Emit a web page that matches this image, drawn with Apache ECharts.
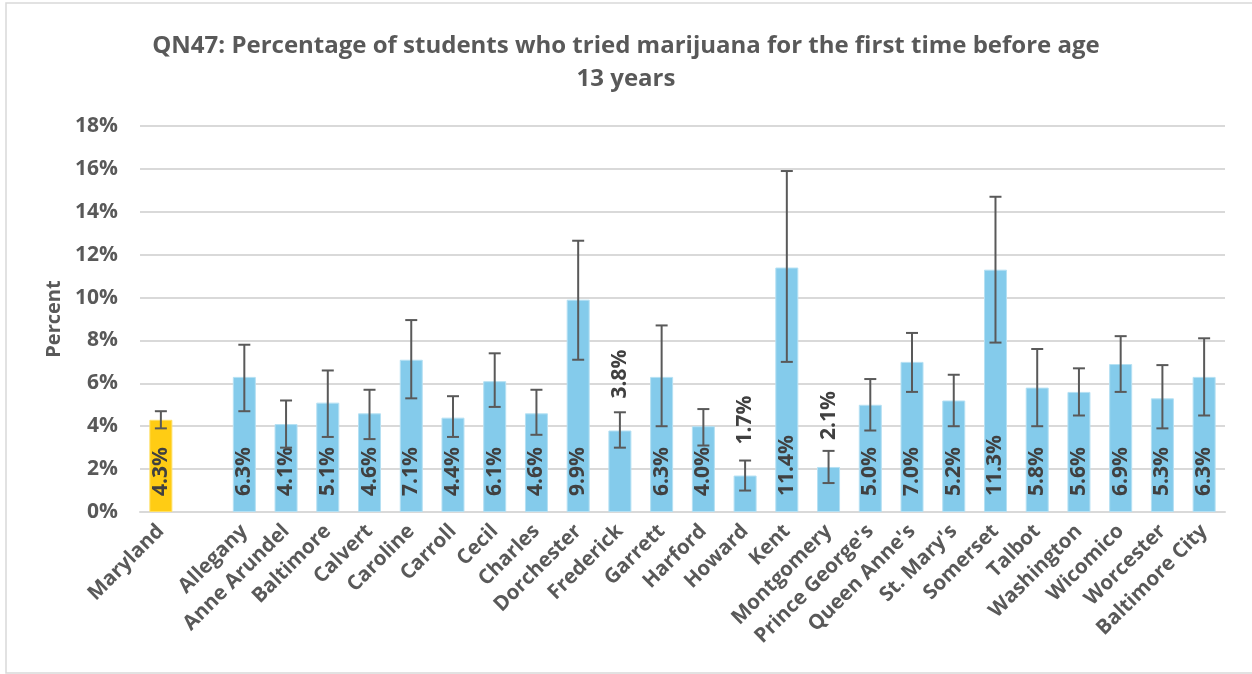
<!DOCTYPE html>
<html>
<head>
<meta charset="utf-8">
<script src="https://cdn.jsdelivr.net/npm/echarts@6/dist/echarts.min.js"></script>
<style>
html,body{margin:0;padding:0;background:#fff;}
#c{width:1252px;height:674px;}
</style>
</head>
<body>
<div id="c"></div>
<script>
const categories = ["Maryland", "", "Allegany", "Anne Arundel", "Baltimore", "Calvert", "Caroline", "Carroll", "Cecil", "Charles", "Dorchester", "Frederick", "Garrett", "Harford", "Howard", "Kent", "Montgomery", "Prince George's", "Queen Anne's", "St. Mary's", "Somerset", "Talbot", "Washington", "Wicomico", "Worcester", "Baltimore City"];
const values = [4.3, null, 6.3, 4.1, 5.1, 4.6, 7.1, 4.4, 6.1, 4.6, 9.9, 3.8, 6.3, 4.0, 1.7, 11.4, 2.1, 5.0, 7.0, 5.2, 11.3, 5.8, 5.6, 6.9, 5.3, 6.3];
const lower = [3.9, null, 4.7, 3.0, 3.5, 3.4, 5.3, 3.5, 4.9, 3.6, 7.1, 3.0, 4.0, 3.1, 1.0, 7.0, 1.35, 3.8, 5.6, 4.0, 7.9, 4.0, 4.5, 5.6, 3.9, 4.5];
const upper = [4.7, null, 7.8, 5.2, 6.6, 5.7, 8.95, 5.4, 7.4, 5.7, 12.65, 4.65, 8.7, 4.8, 2.4, 15.9, 2.85, 6.2, 8.35, 6.4, 14.7, 7.6, 6.7, 8.2, 6.85, 8.1];
const yTicks = [0, 2, 4, 6, 8, 10, 12, 14, 16, 18];
const outsideLabelGap = {"Frederick": 32, "Howard": 31, "Montgomery": 27};

const FONT = 'Open Sans';
const TXT = '#595959';
const LBL = '#404040';

const barData = values.map((v, i) => {
  if (v === null) return null;
  const item = {
    value: v,
    itemStyle: { color: i === 0 ? '#FFCC14' : '#84CBEB', borderColor: i === 0 ? '#FFE066' : '#B5E0F3', borderWidth: 1 }
  };
  const gap = outsideLabelGap[categories[i]];
  if (gap !== undefined) {
    item.label = { position: 'top', distance: gap };
  }
  return item;
});

const errData = categories.map((c, i) => lower[i] === null ? [i, null, null] : [i, lower[i], upper[i]]);

const chart = echarts.init(document.getElementById('c'), null, { renderer: 'canvas' });
chart.setOption({
  animation: false,
  backgroundColor: '#fff',
  graphic: [{
    type: 'rect', shape: { x: 6, y: 3, width: 1260, height: 670 },
    style: { fill: 'none', stroke: '#d9d9d9', lineWidth: 1.5 }, silent: true, z: -1
  }],
  title: {
    text: 'QN47: Percentage of students who tried marijuana for the first time before age\n13 years',
    left: 'center', top: 25,
    textStyle: { fontFamily: FONT, fontWeight: 'bold', fontSize: 24, color: TXT, lineHeight: 33 }
  },
  grid: { left: 140, right: 27, top: 126, bottom: 162, containLabel: false },
  xAxis: {
    type: 'category',
    data: categories,
    axisLine: { show: true, lineStyle: { color: '#d9d9d9', width: 2 } },
    axisTick: { show: false },
    axisLabel: { rotate: 45, interval: 0, margin: 16, fontFamily: FONT, fontWeight: 'bold', fontSize: 20.5, color: TXT }
  },
  yAxis: {
    type: 'value', min: 0, max: 18, interval: 2,
    name: 'Percent', nameLocation: 'middle', nameRotate: 90, nameGap: 75,
    nameTextStyle: { fontFamily: FONT, fontWeight: 'bold', fontSize: 20, color: TXT },
    axisLine: { show: false }, axisTick: { show: false },
    axisLabel: { margin: 22, fontFamily: FONT, fontWeight: 'bold', fontSize: 21, color: TXT,
      formatter: v => (yTicks.indexOf(v) >= 0 ? v + '%' : '') },
    splitLine: { lineStyle: { color: '#d9d9d9', width: 2 } }
  },
  series: [{
    type: 'bar',
    data: barData,
    barWidth: 23,
    label: {
      show: true, position: 'insideBottom', distance: 16, rotate: 90,
      align: 'left', verticalAlign: 'middle',
      fontFamily: FONT, fontWeight: 'bold', fontSize: 21, color: LBL,
      formatter: p => p.value.toFixed(1) + '%'
    },
    z: 2
  }, {
    type: 'custom',
    data: errData,
    z: 5,
    renderItem: (params, api) => {
      const lo = api.value(1), hi = api.value(2);
      if (lo === null || isNaN(lo)) return null;
      const p1 = api.coord([api.value(0), lo]);
      const p2 = api.coord([api.value(0), hi]);
      const w = 6;
      const st = { stroke: '#595959', lineWidth: 2 };
      return {
        type: 'group',
        children: [
          { type: 'line', shape: { x1: p1[0], y1: p1[1], x2: p2[0], y2: p2[1] }, style: st },
          { type: 'line', shape: { x1: p1[0] - w, y1: p1[1], x2: p1[0] + w, y2: p1[1] }, style: st },
          { type: 'line', shape: { x1: p2[0] - w, y1: p2[1], x2: p2[0] + w, y2: p2[1] }, style: st }
        ]
      };
    }
  }]
});
</script>
</body>
</html>
